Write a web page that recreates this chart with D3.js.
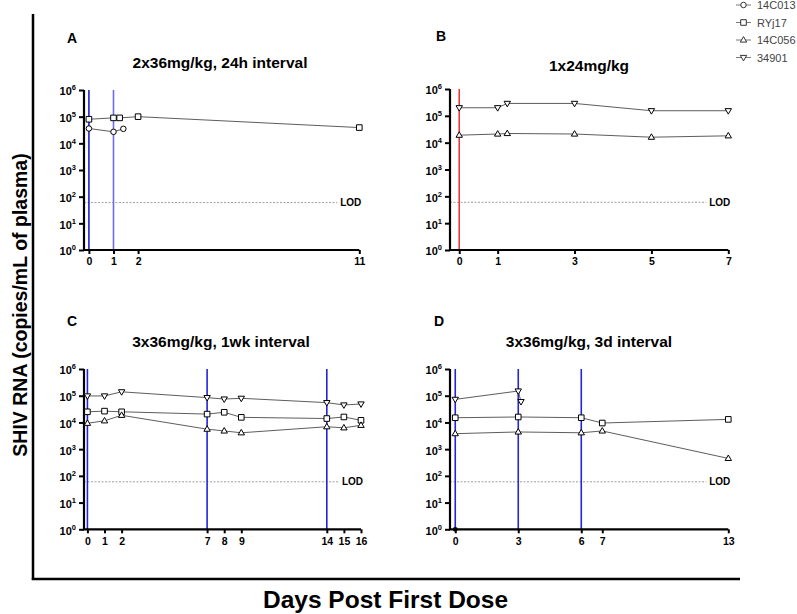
<!DOCTYPE html>
<html>
<head>
<meta charset="utf-8">
<script src="https://cdn.jsdelivr.net/npm/d3@7"></script>
<style>
  body { margin: 0; background: #fff; }
  svg { font-family: "Liberation Sans", Arial, sans-serif; }
</style>
</head>
<body>
<div id="chart"></div>
<script>
// animals, in legend order
const animals = ["14C013", "RYj17", "14C056", "34901"];
const shapes = ["circle", "square", "triangle", "triangleDown"];

const panelLetters = ["A", "B", "C", "D"];
const panelTitles = ["2x36mg/kg, 24h interval", "1x24mg/kg", "3x36mg/kg, 1wk interval", "3x36mg/kg, 3d interval"];

// x tick labels (days)
const xTicksA = [0, 1, 2, 11];
const xTicksB = [0, 1, 3, 5, 7];
const xTicksC = [0, 1, 2, 7, 8, 9, 14, 15, 16];
const xTicksD = [0, 3, 6, 7, 13];

// y ticks (copies/mL)
const yTicks = [1, 10, 100, 1000, 10000, 100000, 1000000];
const lod = 60;

// dosing days (vertical lines)
const dosesA = [0, 1];
const dosesB = [0];
const dosesC = [0, 7, 14];
const dosesD = [0, 3, 6];

// [day, copies/mL] per animal
const A_14C013 = [[0, 36000], [1, 27000], [1.4, 35000]];
const A_RYj17 = [[0, 80000], [1, 90000], [1.25, 90000], [2, 100000], [11, 39000]];

const B_14C056 = [[0, 19000], [1, 21000], [1.25, 22000], [3, 21000], [5, 16000], [7, 18000]];
const B_34901 = [[0, 200000], [1, 200000], [1.25, 290000], [3, 290000], [5, 155000], [7, 155000]];

const C_RYj17 = [[0, 25000], [1, 26500], [2, 25000], [7, 20500], [8, 24000], [9, 15500], [14, 14000], [15, 16000], [16, 12000]];
const C_14C056 = [[0, 9300], [1, 11500], [2, 18500], [7, 5600], [8, 4800], [9, 4100], [14, 6900], [15, 6300], [16, 7800]];
const C_34901 = [[0, 98000], [1, 98000], [2, 140000], [7, 85000], [8, 75000], [9, 80000], [14, 55000], [15, 45000], [16, 49000]];

const D_RYj17 = [[0, 15000], [3, 16000], [6, 15000], [7, 9500], [13, 13000]];
const D_14C056 = [[0, 3800], [3, 4400], [6, 4100], [7, 4800], [13, 450]];
const D_34901 = [[0, 73000], [3, 150000], [3.13, 60000]];
const D_origin = [[0, 1]];

const W = 797, H = 614;

const panels = [
  { letter: panelLetters[0], title: panelTitles[0], xr: [84, 359.3], xd: [-0.2, 11], yr: [250, 90], ticks: xTicksA,
    doses: dosesA, doseColors: ["#1f1fd0", "#6c6cf0"], tx: 220, ty: 68, lx: 67, ly: 43,
    series: [{ a: 0, d: A_14C013 }, { a: 1, d: A_RYj17 }], dots: [] },
  { letter: panelLetters[1], title: panelTitles[1], xr: [450, 728.3], xd: [-0.24, 7], yr: [250, 89], ticks: xTicksB,
    doses: dosesB, doseColors: ["#e83a3a"], tx: 589, ty: 71, lx: 436, ly: 41,
    series: [{ a: 2, d: B_14C056 }, { a: 3, d: B_34901 }], dots: [] },
  { letter: panelLetters[2], title: panelTitles[2], xr: [84, 361], xd: [-0.2, 16], yr: [529.3, 369], ticks: xTicksC,
    doses: dosesC, doseColors: ["#2424d8", "#2424d8", "#2424d8"], tx: 221, ty: 347, lx: 67, ly: 326,
    series: [{ a: 1, d: C_RYj17 }, { a: 2, d: C_14C056 }, { a: 3, d: C_34901 }], dots: [] },
  { letter: panelLetters[3], title: panelTitles[3], xr: [450, 728.3], xd: [-0.25, 13], yr: [529.3, 369], ticks: xTicksD,
    doses: dosesD, doseColors: ["#2424d8", "#2424d8", "#2424d8"], tx: 589, ty: 347, lx: 434, ly: 326,
    series: [{ a: 1, d: D_RYj17 }, { a: 2, d: D_14C056 }, { a: 3, d: D_34901 }], dots: D_origin }
];

function markerPath(shape) {
  if (shape == "circle") return d3.symbol().type(d3.symbolCircle).size(24)();
  if (shape == "square") return "M-2.8,-2.8H2.8V2.8H-2.8Z";
  if (shape == "triangle") return "M0,-3.4L3.2,2.1L-3.2,2.1Z";
  return "M0,3.4L3.2,-2.1L-3.2,-2.1Z";
}

const svg = d3.select("#chart").append("svg")
  .attr("width", W)
  .attr("height", H);

// outer frame (left and bottom)
svg.append("line").attr("x1", 33).attr("x2", 33).attr("y1", 14).attr("y2", 580)
  .attr("stroke", "#000").attr("stroke-width", 2.5);
svg.append("line").attr("x1", 31.8).attr("x2", 740).attr("y1", 579).attr("y2", 579)
  .attr("stroke", "#000").attr("stroke-width", 2.5);

svg.append("text")
  .attr("transform", "translate(27,305) rotate(-90)")
  .attr("text-anchor", "middle")
  .attr("font-size", 19.5).attr("font-weight", "bold")
  .text("SHIV RNA (copies/mL of plasma)");

svg.append("text")
  .attr("x", 385.5).attr("y", 608)
  .attr("text-anchor", "middle")
  .attr("font-size", 24.5).attr("font-weight", "bold")
  .text("Days Post First Dose");

panels.forEach(function (p) {
  let x = d3.scaleLinear().domain(p.xd).range(p.xr);
  let y = d3.scaleLog().domain([1, 1e6]).range(p.yr);
  let g = svg.append("g");

  g.append("text").attr("x", p.lx).attr("y", p.ly)
    .attr("font-size", 14).attr("font-weight", "bold").text(p.letter);
  g.append("text").attr("x", p.tx).attr("y", p.ty)
    .attr("text-anchor", "middle")
    .attr("font-size", 15.5).attr("font-weight", "bold").text(p.title);

  // LOD
  g.append("line")
    .attr("x1", p.xr[0]).attr("x2", p.xr[1] - 22)
    .attr("y1", y(lod)).attr("y2", y(lod))
    .attr("stroke", "#888").attr("stroke-width", 0.8).attr("stroke-dasharray", "2,1.5");
  g.append("text").attr("x", p.xr[1] + 2).attr("y", y(lod) + 3.5)
    .attr("text-anchor", "end")
    .attr("font-size", 10).attr("font-weight", "bold").text("LOD");

  // dosing lines
  g.selectAll(".dose").data(p.doses).enter().append("line")
    .attr("x1", d => x(d)).attr("x2", d => x(d))
    .attr("y1", p.yr[1]).attr("y2", p.yr[0])
    .attr("stroke", (d, i) => p.doseColors[i]).attr("stroke-width", 1.6);

  // y axis
  let yAxis = g.append("g")
    .attr("transform", "translate(" + p.xr[0] + ",0)")
    .call(d3.axisLeft(y).tickValues(yTicks).tickSize(5).tickFormat(""));
  yAxis.select(".domain").attr("stroke-width", 2.2).attr("d", "M0," + p.yr[0] + "V" + p.yr[1]);
  yAxis.selectAll(".tick line").attr("stroke-width", 2);
  yAxis.selectAll(".tick").append("text")
    .attr("x", -8).attr("dy", "0.45em")
    .attr("text-anchor", "end")
    .attr("fill", "#000")
    .attr("font-size", 11).attr("font-weight", "bold")
    .each(function (d) {
      let t = d3.select(this);
      t.append("tspan").text("10");
      t.append("tspan").attr("dy", -5).attr("font-size", 7.5).text(Math.round(Math.log10(d)));
    });

  // x axis
  let xAxis = g.append("g")
    .attr("transform", "translate(0," + p.yr[0] + ")")
    .call(d3.axisBottom(x).tickValues(p.ticks).tickSize(4).tickFormat(d3.format("d")));
  xAxis.select(".domain").attr("stroke-width", 2.2).attr("d", "M" + (p.xr[0] - 1) + ",0H" + p.xr[1]);
  xAxis.selectAll(".tick line").attr("stroke-width", 2);
  xAxis.selectAll(".tick text").attr("font-size", 10.5).attr("font-weight", "bold")
    .attr("font-family", "Liberation Sans, Arial, sans-serif").attr("y", 8);

  // series
  let line = d3.line().x(d => x(d[0])).y(d => y(d[1]));
  p.series.forEach(function (s) {
    g.append("path").datum(s.d)
      .attr("d", line)
      .attr("fill", "none").attr("stroke", "#333").attr("stroke-width", 0.8);
    g.selectAll(null).data(s.d).enter().append("path")
      .attr("transform", d => "translate(" + x(d[0]) + "," + y(d[1]) + ")")
      .attr("d", markerPath(shapes[s.a]))
      .attr("fill", "#fff").attr("stroke", "#000").attr("stroke-width", 1);
  });

  g.selectAll(null).data(p.dots).enter().append("circle")
    .attr("cx", d => x(d[0])).attr("cy", d => y(d[1]))
    .attr("r", 2.4).attr("fill", "#000");
});

// legend
let legend = svg.append("g");
animals.forEach(function (a, i) {
  let ly = 5 + i * 17.5;
  legend.append("line").attr("x1", 736).attr("x2", 751).attr("y1", ly).attr("y2", ly)
    .attr("stroke", "#555").attr("stroke-width", 0.8);
  legend.append("path").attr("transform", "translate(743.5," + ly + ")")
    .attr("d", markerPath(shapes[i]))
    .attr("fill", "#fff").attr("stroke", "#333").attr("stroke-width", 1);
  legend.append("text").attr("x", 757).attr("y", ly + 4)
    .attr("font-size", 11).attr("fill", "#444").text(a);
});
</script>
</body>
</html>
